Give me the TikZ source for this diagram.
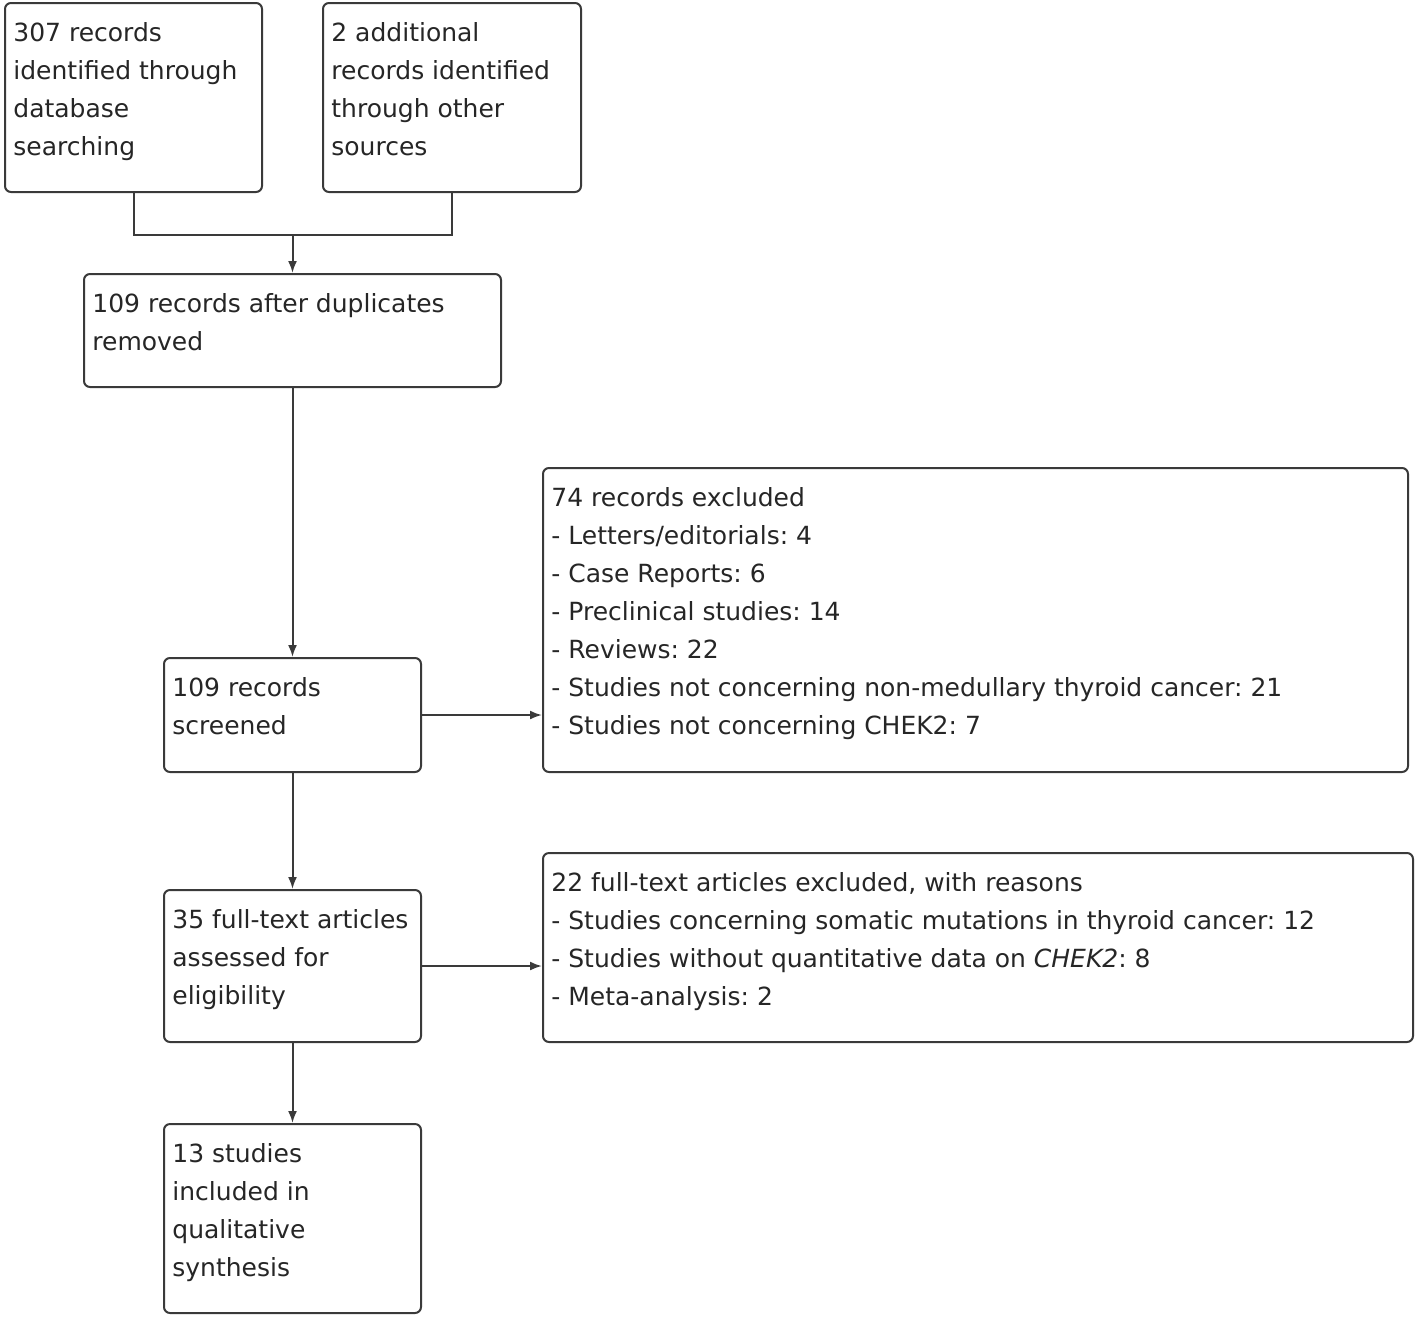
\documentclass[tikz,border=0pt]{standalone}
\usepackage{fontspec}
\setmainfont{DejaVu Sans}
\usepackage{tikz}
\usetikzlibrary{arrows.meta,positioning}
\definecolor{edge}{HTML}{3A3A3A}
\definecolor{ink}{HTML}{262626}
\frenchspacing

\tikzset{
  stage/.style={draw=edge,line width=1pt,rounded corners=3pt,fill=white,inner sep=0pt},
  txt/.style={anchor=north west,align=left,inner sep=0pt,text=ink,
    font=\fontsize{12.5}{19}\selectfont,xshift=4.5pt,yshift=-10pt},
  link/.style={draw=edge,line width=1pt},
  flow/.style={link,-{Latex[length=6pt,width=4.5pt]}}
}

\begin{document}
\begin{tikzpicture}[x=0.5pt,y=-0.5pt]
  \useasboundingbox[fill=white] (0,0) rectangle (1418,1318);
  % identification
  \node[stage,minimum width=128.5pt,minimum height=94.5pt,
    label={[txt]north west:307 records\\identified through\\database\\searching}] (dbsearch) at (133.5,97.5) {};
  \node[stage,minimum width=129pt,minimum height=94.5pt,
    label={[txt]north west:2 additional\\records identified\\through other\\sources}] (othersrc) at (452,97.5) {};
  \coordinate (merge) at (292.5,235);
  % screening
  \node[stage,minimum width=208.5pt,minimum height=56.5pt,
    label={[txt]north west:109 records after duplicates\\removed}] (dedup) at (292.5,330.5) {};
  \node[stage,minimum width=128.5pt,minimum height=57pt,
    label={[txt]north west:109 records\\screened}] (screened) at (292.5,715) {};
  \node[stage,minimum width=432.5pt,minimum height=152pt,
    label={[txt]north west:74 records excluded\\- Letters/editorials: 4\\- Case Reports: 6\\- Preclinical studies: 14\\- Reviews: 22\\- Studies not concerning non-medullary thyroid cancer: 21\\- Studies not concerning CHEK2: 7}] (excl1) at (975.5,620) {};
  % eligibility
  \node[stage,minimum width=128.5pt,minimum height=76pt,
    label={[txt]north west:35 full-text articles\\assessed for\\eligibility}] (fulltext) at (292.5,966) {};
  \node[stage,minimum width=435pt,minimum height=94.5pt,
    label={[txt]north west:22 full-text articles excluded, with reasons\\- Studies concerning somatic mutations in thyroid cancer: 12\\- Studies without quantitative data on \textit{CHEK2}: 8\\- Meta-analysis: 2}] (excl2) at (978,947.5) {};
  % included
  \node[stage,minimum width=128.5pt,minimum height=94.5pt,
    label={[txt]north west:13 studies\\included in\\qualitative\\synthesis}] (included) at (292.5,1218.5) {};

  \draw[link] (dbsearch.south) |- (merge) -| (othersrc.south);
  \draw[flow] (merge) -- (dedup.north);
  \draw[flow] (dedup) -- (screened);
  \draw[flow] (screened) -- (excl1.west |- screened.east);
  \draw[flow] (screened) -- (fulltext);
  \draw[flow] (fulltext) -- (excl2.west |- fulltext.east);
  \draw[flow] (fulltext) -- (included);
\end{tikzpicture}
\end{document}
